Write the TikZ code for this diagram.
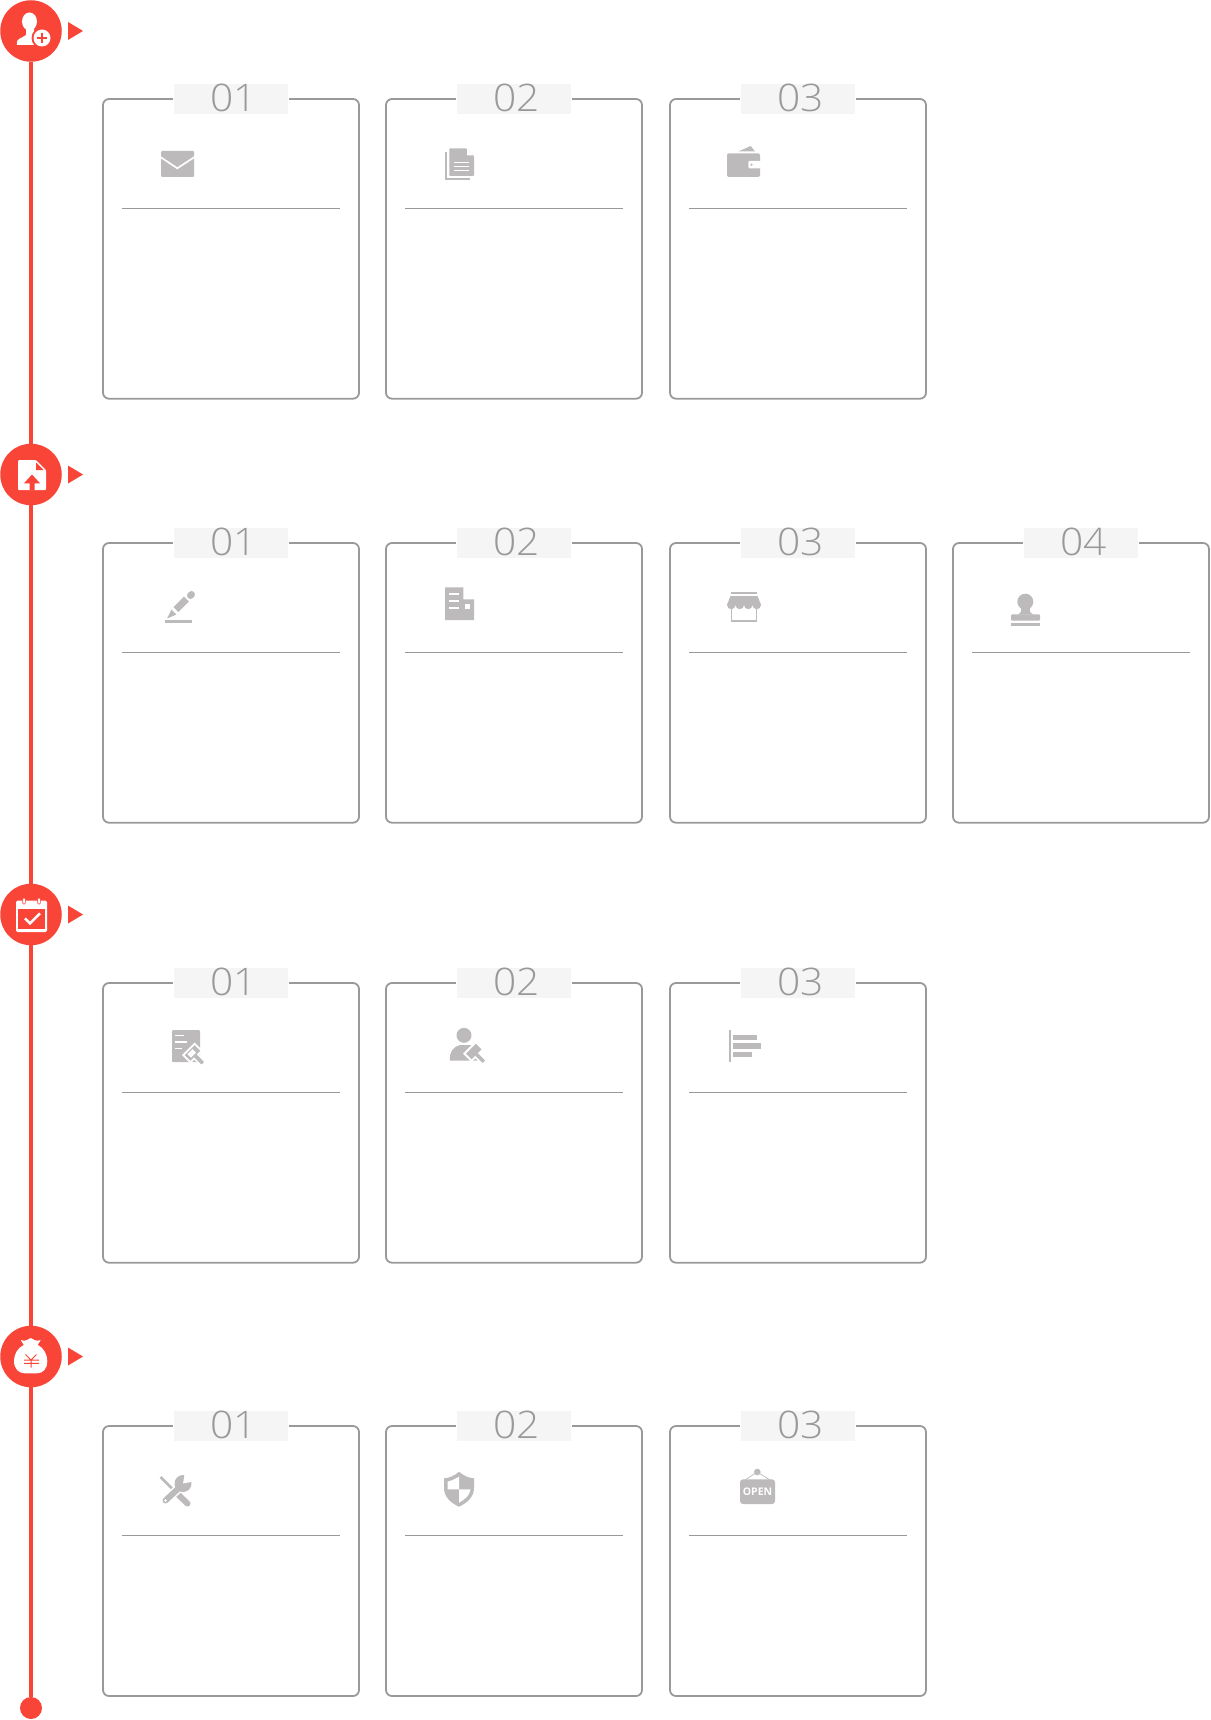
\documentclass[tikz,border=0pt]{standalone}
\usepackage{fontspec}
\usetikzlibrary{calc}
\newfontfamily\numfont[UprightFont=*-Light,FakeStretch=1.07]{Open Sans}
\newfontfamily\signfont{Open Sans}
\definecolor{stepred}{HTML}{F94438}
\definecolor{cardgray}{HTML}{999999}
\definecolor{icongray}{HTML}{BCBABA}
\definecolor{labelgray}{HTML}{F5F5F5}
\newcommand{\numtext}[1]{\hspace{4.5pt}\raisebox{3.5pt}{#1}}
\newcommand{\gavel}[2]{\begin{scope}[shift={(#1,#2)},rotate=-45]
    \fill[white] (-6,-9) rectangle (6,9);
    \fill[white] (4,-3.5) rectangle (16.5,3.5);
    \fill[icongray] (-4,-7) rectangle (4,7);
    \fill[icongray,rounded corners=0.5pt] (3.5,-1.8) rectangle (14.5,1.8);
\end{scope}}
\begin{document}
\begin{tikzpicture}[x=1pt,y=-1pt,
    step node/.style={circle,fill=stepred,inner sep=0pt,minimum size=61.5pt},
    end node/.style={circle,fill=stepred,inner sep=0pt,minimum size=22pt},
    step line/.style={stepred,line width=4pt},
    card node/.style={rectangle,anchor=north west,draw=cardgray,line width=1.8pt,rounded corners=6pt,inner sep=0pt,outer sep=0pt,minimum width=256pt},
    num node/.style={rectangle,draw=white,line width=1pt,fill=labelgray,text=cardgray,inner sep=0pt,minimum width=115pt,minimum height=31pt,font=\numfont\fontsize{38}{38}\selectfont},
    rule line/.style={cardgray,line width=1.1pt}]
    \useasboundingbox (0,0) rectangle (1210,1720);

    % timeline
    \node[step node] (s1) at (31,31) {};
    \node[step node] (s2) at (31,474.5) {};
    \node[step node] (s3) at (31,914.5) {};
    \node[step node] (s4) at (31,1356.5) {};
    \node[end node] (s5) at (31,1708) {};
    \draw[step line] (s1) -- (s2);
    \draw[step line] (s2) -- (s3);
    \draw[step line] (s3) -- (s4);
    \draw[step line] (s4) -- (s5);
    \fill[stepred] ($(s1)+(37,-9)$) -- ($(s1)+(52,0)$) -- ($(s1)+(37,9)$) -- cycle;
    \fill[stepred] ($(s2)+(37,-9)$) -- ($(s2)+(52,0)$) -- ($(s2)+(37,9)$) -- cycle;
    \fill[stepred] ($(s3)+(37,-9)$) -- ($(s3)+(52,0)$) -- ($(s3)+(37,9)$) -- cycle;
    \fill[stepred] ($(s4)+(37,-9)$) -- ($(s4)+(52,0)$) -- ($(s4)+(37,9)$) -- cycle;

    % first row
    \node[card node,minimum height=299.7pt] (A1) at (103,99) {};
    \node[card node,minimum height=299.7pt] (A2) at (386,99) {};
    \node[card node,minimum height=299.7pt] (A3) at (670,99) {};
    \node[num node] (n1) at (A1.north) {\numtext{01}};
    \node[num node] (n2) at (A2.north) {\numtext{02}};
    \node[num node] (n3) at (A3.north) {\numtext{03}};
    \draw[rule line] ($(A1.north west)+(19,109.4)$) -- ($(A1.north east)+(-19.5,109.4)$);
    \draw[rule line] ($(A2.north west)+(19,109.4)$) -- ($(A2.north east)+(-19.5,109.4)$);
    \draw[rule line] ($(A3.north west)+(19,109.4)$) -- ($(A3.north east)+(-19.5,109.4)$);

    % second row
    \node[card node,minimum height=279.7pt] (B1) at (103,543) {};
    \node[card node,minimum height=279.7pt] (B2) at (386,543) {};
    \node[card node,minimum height=279.7pt] (B3) at (670,543) {};
    \node[card node,minimum height=279.7pt] (B4) at (953,543) {};
    \node[num node] (n4) at (B1.north) {\numtext{01}};
    \node[num node] (n5) at (B2.north) {\numtext{02}};
    \node[num node] (n6) at (B3.north) {\numtext{03}};
    \node[num node] (n7) at (B4.north) {\numtext{04}};
    \draw[rule line] ($(B1.north west)+(19,109.4)$) -- ($(B1.north east)+(-19.5,109.4)$);
    \draw[rule line] ($(B2.north west)+(19,109.4)$) -- ($(B2.north east)+(-19.5,109.4)$);
    \draw[rule line] ($(B3.north west)+(19,109.4)$) -- ($(B3.north east)+(-19.5,109.4)$);
    \draw[rule line] ($(B4.north west)+(19,109.4)$) -- ($(B4.north east)+(-19.5,109.4)$);

    % third row
    \node[card node,minimum height=279.7pt] (C1) at (103,983) {};
    \node[card node,minimum height=279.7pt] (C2) at (386,983) {};
    \node[card node,minimum height=279.7pt] (C3) at (670,983) {};
    \node[num node] (n8) at (C1.north) {\numtext{01}};
    \node[num node] (n9) at (C2.north) {\numtext{02}};
    \node[num node] (n10) at (C3.north) {\numtext{03}};
    \draw[rule line] ($(C1.north west)+(19,109.4)$) -- ($(C1.north east)+(-19.5,109.4)$);
    \draw[rule line] ($(C2.north west)+(19,109.4)$) -- ($(C2.north east)+(-19.5,109.4)$);
    \draw[rule line] ($(C3.north west)+(19,109.4)$) -- ($(C3.north east)+(-19.5,109.4)$);

    % fourth row
    \node[card node,minimum height=270pt] (D1) at (103,1426) {};
    \node[card node,minimum height=270pt] (D2) at (386,1426) {};
    \node[card node,minimum height=270pt] (D3) at (670,1426) {};
    \node[num node] (n11) at (D1.north) {\numtext{01}};
    \node[num node] (n12) at (D2.north) {\numtext{02}};
    \node[num node] (n13) at (D3.north) {\numtext{03}};
    \draw[rule line] ($(D1.north west)+(19,109.4)$) -- ($(D1.north east)+(-19.5,109.4)$);
    \draw[rule line] ($(D2.north west)+(19,109.4)$) -- ($(D2.north east)+(-19.5,109.4)$);
    \draw[rule line] ($(D3.north west)+(19,109.4)$) -- ($(D3.north east)+(-19.5,109.4)$);

    % step icons
    \fill[white] (29.5,21.5) ellipse[x radius=7.5,y radius=9];
    \fill[white] (17,45) .. controls (16,41) and (18,39) .. (22,37.5) -- (26,35) -- (26,28) -- (34,28) -- (34,35) -- (40,37.5) -- (40,45) -- cycle;
    \fill[stepred] (42,38) circle[radius=10.5];
    \fill[white] (42,38) circle[radius=8.5];
    \draw[stepred,line width=2.2pt] (37,38) -- (47,38) (42,33) -- (42,43);

    \fill[white,rounded corners=1pt] (18,460) -- (36,460) -- (46,470) -- (46,490) -- (18,490) -- cycle;
    \fill[stepred] (36.2,462.5) -- (43.5,470) -- (36.2,470) -- cycle;
    \fill[stepred] (32,474.5) -- (40,483.3) -- (34.7,483.3) -- (34.7,490) -- (29.5,490) -- (29.5,483.3) -- (24,483.3) -- cycle;

    \fill[white,rounded corners=1.5pt] (16,900.7) rectangle (47,932);
    \fill[stepred] (18,909.3) rectangle (45,929.3);
    \draw[stepred,fill=white,line width=0.6pt,rounded corners=0.8pt] (22.7,898) rectangle (25.3,904);
    \draw[stepred,fill=white,line width=0.6pt,rounded corners=0.8pt] (37.7,898) rectangle (40.3,904);
    \draw[white,line width=2.5pt] (25,918.3) -- (30,923.3) -- (40,913.3);

    \fill[white] (24,1345) .. controls (17,1348) and (14,1355) .. (14,1361) .. controls (14,1369) and (19,1373.3) .. (25,1373.3) -- (37,1373.3) .. controls (43,1373.3) and (47.3,1369) .. (47.3,1361) .. controls (47.3,1355) and (44,1348) .. (38,1345) -- cycle;
    \fill[white] (24.5,1346) -- (20.7,1340) .. controls (23,1341) and (25,1341) .. (27,1340) -- (30.7,1338) -- (34.5,1340) .. controls (36.5,1341) and (38.5,1341) .. (40.7,1340) -- (37,1346) -- cycle;
    \draw[stepred,line width=1pt] (25.5,1354.5) -- (31,1360) -- (36.5,1354.5) (31,1360) -- (31,1367.7) (24,1360) -- (39,1360) (24,1363.3) -- (39,1363.3);

    % card icons, first row
    \fill[icongray,rounded corners=1pt] (161,151) rectangle (194,177);
    \draw[white,line width=1.7pt] (160,156.7) -- (177.3,168.3) -- (195,156.7);

    \draw[icongray,line width=2pt] (446,151.7) -- (446,179) -- (470,179);
    \fill[icongray,rounded corners=0.8pt] (449.3,148.3) -- (466,148.3) -- (474,156) -- (474,176) -- (449.3,176) -- cycle;
    \fill[white] (467,149) -- (473.5,155.5) -- (467,155.5) -- cycle;
    \draw[white,line width=1.5pt] (454,162.7) -- (469.3,162.7) (454,166.7) -- (469.3,166.7) (454,170.7) -- (469.3,170.7);

    \fill[icongray,rounded corners=2pt] (727,153.3) rectangle (760,177);
    \fill[icongray] (738.3,151.5) -- (750.7,146) -- (755,151.5) -- cycle;
    \fill[white,rounded corners=1pt] (748.3,161) rectangle (761,168.3);
    \fill[icongray] (751.5,164.7) circle[radius=1.2];

    % card icons, second row
    \draw[icongray,line width=7pt] (176,609.5) -- (186.5,599);
    \draw[icongray,line width=7pt,line cap=round] (190.5,595.5) -- (191.5,594.5);
    \fill[icongray] (171.5,609.5) -- (176.5,614.5) -- (167,618.5) -- cycle;
    \fill[icongray] (165,620) rectangle (192,623);

    \fill[icongray] (445,587.3) -- (463.3,587.3) -- (463.3,599.3) -- (474,599.3) -- (474,620) -- (445,620) -- cycle;
    \draw[white,line width=1.7pt] (449.3,594) -- (459.3,594) (449.3,600.7) -- (459.3,600.7) (449.3,607.7) -- (459.3,607.7);
    \fill[white] (465,604.3) rectangle (470,609.3);

    \fill[icongray] (730.7,592) rectangle (757.3,594.3);
    \fill[icongray] (730.5,596) -- (757.5,596) -- (761,605) -- (727,605) -- cycle;
    \fill[icongray] (731.25,605) circle[radius=4.2] (739.75,605) circle[radius=4.2] (748.25,605) circle[radius=4.2] (756.75,605) circle[radius=4.2];
    \draw[icongray,line width=1.7pt] (731.5,609) -- (731.5,621) -- (756.5,621) -- (756.5,609);

    \fill[icongray] (1025.3,601.7) circle[radius=8];
    \fill[icongray] (1020,606) .. controls (1022,610) and (1022,612) .. (1018,614.5) -- (1033,614.5) .. controls (1029,612) and (1029,610) .. (1031,606) -- cycle;
    \fill[icongray,rounded corners=1pt] (1011,620.7) -- (1011,614.3) -- (1040,614.3) -- (1040,620.7) -- cycle;
    \fill[icongray] (1011,622.7) rectangle (1040,626);

    % card icons, third row
    \fill[icongray,rounded corners=1pt] (172,1030) rectangle (200,1062);
    \draw[white,line width=1.5pt] (175,1035.7) -- (184,1035.7) (175,1042) -- (186.7,1042) (175,1048.3) -- (182,1048.3);
    \gavel{192.5}{1053}
    \fill[white] (187.5,1054) -- (192.5,1049) -- (196,1052.5) -- (191,1057.5) -- cycle;

    \fill[icongray] (464,1035.3) circle[radius=7.5];
    \fill[icongray] (450,1060.7) .. controls (449,1052) and (454,1046) .. (460,1045) -- (472,1045) -- (478,1060.7) -- cycle;
    \gavel{473.7}{1051.5}

    \fill[icongray] (729.2,1030) rectangle (730.9,1061.7);
    \fill[icongray] (733.3,1034.7) rectangle (756.7,1040);
    \fill[icongray] (733.3,1043) rectangle (761,1049);
    \fill[icongray] (733.3,1051.7) rectangle (751.7,1057);

    % card icons, fourth row
    \draw[icongray,line width=2.5pt] (160.5,1477) -- (175,1491.5);
    \draw[icongray,line width=6pt,line cap=round] (178,1494.5) -- (187.5,1503.5);
    \draw[white,line width=9pt] (167,1499) -- (180,1487);
    \draw[icongray,line width=6pt,line cap=round] (165.5,1500.5) -- (180,1487);
    \fill[icongray] (183,1483.5) circle[radius=8.5];
    \fill[white] (183,1483.5) -- (185,1472) -- (196,1472) -- (196,1481) -- cycle;
    \fill[white] (165.5,1500.5) circle[radius=1.3];

    \fill[icongray] (459,1471.7) .. controls (454,1476) and (449,1478) .. (444,1478.3) -- (444,1488) .. controls (444,1497) and (451,1503) .. (459,1506.7) .. controls (467,1503) and (474,1497) .. (474,1488) -- (474,1478.3) .. controls (469,1478) and (464,1476) .. (459,1471.7) -- cycle;
    \fill[white] (459,1476.7) .. controls (455,1479) and (451,1481) .. (447.5,1481.5) -- (447.5,1489.3) -- (459,1489.3) -- cycle;
    \fill[white] (459,1489.3) -- (470.5,1489.3) .. controls (470,1495) and (465,1499.5) .. (459,1502.7) -- cycle;

    \draw[icongray,line width=0.7pt] (745,1480) -- (757.3,1472) -- (770,1480);
    \fill[icongray] (757.3,1472) circle[radius=3.3];
    \fill[icongray,rounded corners=3pt] (740,1479.3) rectangle (775,1504);
    \node[text=white,inner sep=0pt,font=\signfont\bfseries\fontsize{10.5}{10.5}\selectfont] (sign) at (757.5,1491.8) {OPEN};
\end{tikzpicture}
\end{document}
